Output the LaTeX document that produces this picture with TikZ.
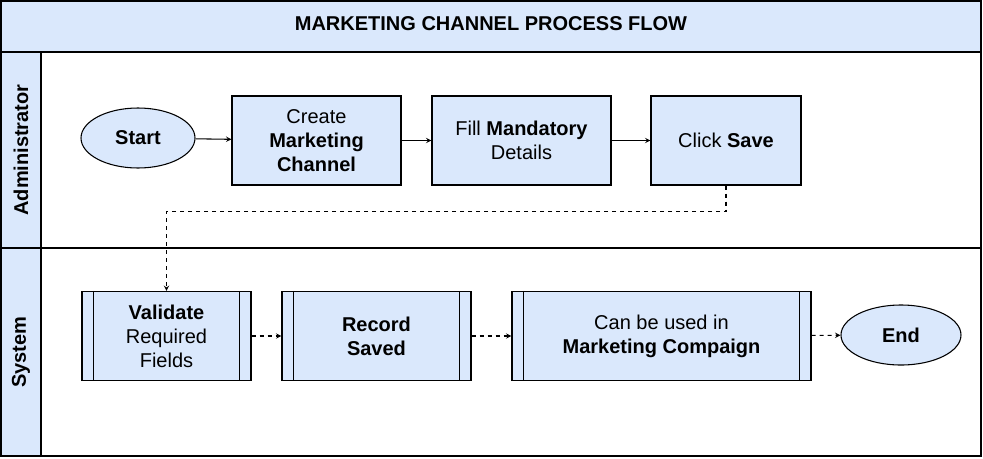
\documentclass[tikz,border=0pt]{standalone}
\usepackage{fontspec}
\setmainfont{Liberation Sans}
\usetikzlibrary{positioning,shapes.geometric}
\definecolor{lane}{HTML}{DAE8FC}
\tikzset{
  box/.style={draw,thick,fill=lane,minimum width=169*0.75pt,minimum height=89*0.75pt,align=center,inner sep=1pt},
  oval/.style={draw,thick,ellipse,fill=lane,minimum width=114*0.75pt,minimum height=60*0.75pt},
  flow/.style={->,>=stealth,thick},
  msg/.style={->,>=stealth,thick,dashed}
}
\begin{document}
\begin{tikzpicture}[x=0.75pt,y=-0.75pt,font=\fontsize{15}{18}\selectfont]
        \useasboundingbox(0,0)rectangle(983,458);
        % frame and lanes
        \draw[thick,fill=lane](1,1)rectangle(981,52);
        \node(title)at(491,24){\bfseries MARKETING CHANNEL PROCESS FLOW};
        \draw[thick](1,52)rectangle(981,456);
        \draw[thick](1,248)--(981,248);
        \draw[thick,fill=lane](1,52)rectangle(41,248);
        \draw[thick,fill=lane](1,248)rectangle(41,456);
        \node[rotate=90](admin)at(21,150){\bfseries Administrator};
        \node[rotate=90](system)at(21,352){\bfseries System};
        % administrator
        \node[oval](start)at(138,138){\bfseries Start};
        \node[box](create)at(316.5,140.5){Create\\\bfseries Marketing\\\bfseries Channel};
        \node[box,minimum width=179*0.75pt](fill)at(521.5,140.5){Fill \textbf{Mandatory}\\Details};
        \node[box,minimum width=150*0.75pt](save)at(726,140.5){Click \textbf{Save}};
        % system
        \node[box](valid)at(166.5,336){\textbf{Validate}\\Required\\Fields};
        \node[box,minimum width=189*0.75pt](record)at(376.5,336){\bfseries Record\\\bfseries Saved};
        \node[box,minimum width=299*0.75pt](used)at(661.5,336){Can be used in\\\bfseries Marketing Compaign};
        \node[oval,minimum width=120*0.75pt](end)at(901,335){\bfseries End};
        \foreach \n in {valid,record,used}{
            \draw[thick]([xshift=12*0.75pt]\n.north west)--([xshift=12*0.75pt]\n.south west);
            \draw[thick]([xshift=-12*0.75pt]\n.north east)--([xshift=-12*0.75pt]\n.south east);
        }
        % connectors
        \draw[flow](start)--(create);
        \draw[flow](create)--(fill);
        \draw[flow](fill)--(save);
        \draw[msg](save.south)--++(0,26)-|(valid.north);
        \draw[msg](valid)--(record);
        \draw[msg](record)--(used);
        \draw[msg](used)--(end);
    \end{tikzpicture}
\end{document}
